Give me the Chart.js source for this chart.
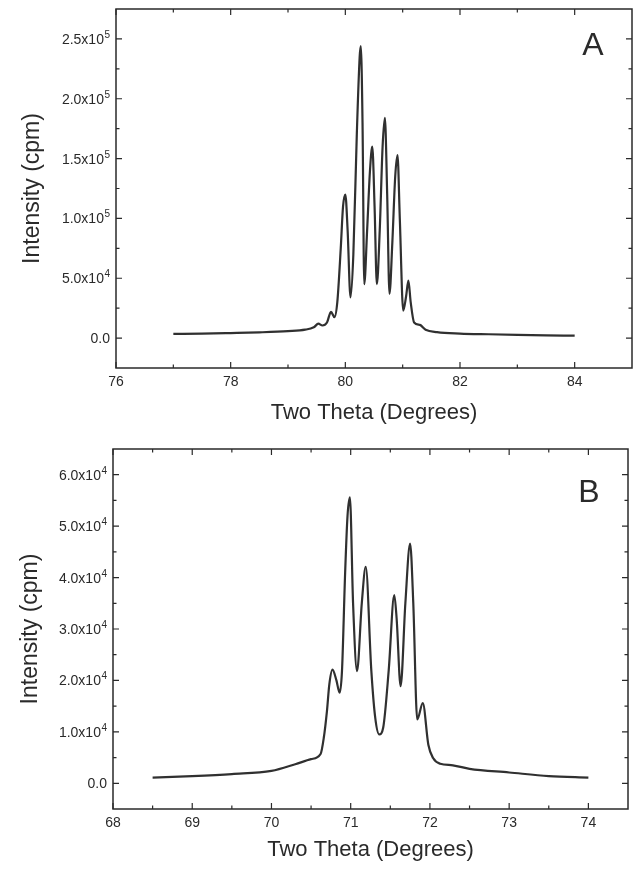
<!DOCTYPE html>
<html lang="en">
<head>
    <meta charset="UTF-8">
    <title>Two Theta scans A and B</title>
    <script src="https://cdn.jsdelivr.net/npm/chart.js@4.4.0/dist/chart.umd.min.js"></script>
    <style>
        body { margin: 0; background: #fff; }
        .panel { position: relative; width: 642px; }
        #panelA { height: 430px; }
        #panelB { height: 440px; }
    </style>
</head>
<body>
    <div class="panel" id="panelA"><canvas id="chartA"></canvas></div>
    <div class="panel" id="panelB"><canvas id="chartB"></canvas></div>

    <script>
        // Panel A data (two theta, intensity in cpm)
        const thetaA = [77.0, 77.5, 78.0, 78.5, 79.0, 79.3, 79.45, 79.53, 79.6, 79.68, 79.75, 79.81, 79.86,
            79.92, 79.96, 80.0, 80.04, 80.09, 80.14, 80.2, 80.25, 80.27, 80.3, 80.33, 80.38, 80.43, 80.47,
            80.51, 80.55, 80.6, 80.65, 80.69, 80.73, 80.77, 80.82, 80.87, 80.91, 80.95, 81.01, 81.06, 81.1,
            81.14, 81.2, 81.3, 81.4, 81.6, 82.0, 82.5, 83.0, 83.5, 84.0];
        const intensityA = [3500, 3700, 4200, 4800, 5800, 7000, 9000, 12000, 10500, 13000, 22000, 17500, 30000,
            75000, 110000, 120000, 90000, 34000, 70000, 170000, 235000, 244000, 180000, 45000, 90000, 140000, 160000,
            110000, 45000, 90000, 160000, 184000, 120000, 37000, 80000, 135000, 153000, 100000, 23000, 35000, 48000,
            30000, 13000, 11000, 7000, 5000, 3800, 3200, 2700, 2300, 2000];

        // Panel B data
        const thetaB = [68.5, 69.0, 69.5, 70.0, 70.3, 70.5, 70.62, 70.66, 70.7, 70.73, 70.77, 70.82, 70.86,
            70.89, 70.93, 70.96, 70.99, 71.03, 71.08, 71.14, 71.19, 71.26, 71.31, 71.36, 71.41, 71.48, 71.55,
            71.58, 71.63, 71.69, 71.75, 71.79, 71.84, 71.91, 71.98, 72.04, 72.13, 72.29, 72.5, 73.0, 73.5, 74.0];
        const intensityB = [1100, 1400, 1800, 2400, 3700, 4700, 5700, 8800, 14000, 19200, 22100, 20000, 17600,
            21800, 41000, 52000, 55600, 35000, 21800, 35000, 42100, 22000, 12700, 9500, 10800, 22000, 36600,
            32000, 18900, 35000, 46600, 35000, 12400, 15600, 7500, 4900, 3800, 3500, 2800, 2100, 1400, 1100];

        // Axis ticks
        const xMajorA = [76, 78, 80, 82, 84];
        const xMinorA = [77, 79, 81, 83];
        const yMajorA = [0, 50000, 100000, 150000, 200000, 250000];
        const yLabelsA = ['0.0', '5.0x10\u2074', '1.0x10\u2075', '1.5x10\u2075', '2.0x10\u2075', '2.5x10\u2075'];
        const yMinorA = [25000, 75000, 125000, 175000, 225000];

        const xMajorB = [68, 69, 70, 71, 72, 73, 74];
        const xMinorB = [68.5, 69.5, 70.5, 71.5, 72.5, 73.5];
        const yMajorB = [0, 10000, 20000, 30000, 40000, 50000, 60000];
        const yLabelsB = ['0.0', '1.0x10\u2074', '2.0x10\u2074', '3.0x10\u2074', '4.0x10\u2074', '5.0x10\u2074', '6.0x10\u2074'];
        const yMinorB = [5000, 15000, 25000, 35000, 45000, 55000];

        const FONT = "'Liberation Sans', Arial, sans-serif";
        const INK = '#2a2a2a';
        const SUP = { '\u2070': '0', '\u00b9': '1', '\u00b2': '2', '\u00b3': '3', '\u2074': '4', '\u2075': '5',
            '\u2076': '6', '\u2077': '7', '\u2078': '8', '\u2079': '9' };

        // frame with inward ticks on all four sides, y labels with raised exponents, panel letter
        const frameTicks = {
            id: 'frameTicks',
            afterDraw(chart, args, opts) {
                const { ctx, chartArea: { left, right, top, bottom }, scales: { x, y } } = chart;
                ctx.save();
                ctx.strokeStyle = INK;
                ctx.lineWidth = 1.5;
                ctx.strokeRect(left, top, right - left, bottom - top);
                ctx.lineWidth = 1.2;
                ctx.beginPath();
                const xTicks = (vals, len) => vals.forEach(v => {
                    const px = x.getPixelForValue(v);
                    ctx.moveTo(px, bottom); ctx.lineTo(px, bottom - len);
                    ctx.moveTo(px, top); ctx.lineTo(px, top + len);
                });
                const yTicks = (vals, len) => vals.forEach(v => {
                    const py = y.getPixelForValue(v);
                    ctx.moveTo(left, py); ctx.lineTo(left + len, py);
                    ctx.moveTo(right, py); ctx.lineTo(right - len, py);
                });
                xTicks(opts.xMajor, 6);
                xTicks(opts.xMinor, 3.5);
                yTicks(opts.yMajor, 6);
                yTicks(opts.yMinor, 3.5);
                ctx.stroke();

                // y tick labels: split trailing superscript digits and draw them raised
                ctx.fillStyle = INK;
                ctx.textAlign = 'right';
                ctx.textBaseline = 'alphabetic';
                opts.yMajor.forEach((v, i) => {
                    const label = opts.yLabels[i];
                    let base = label, exp = '';
                    while (base.length && SUP[base[base.length - 1]]) {
                        exp = SUP[base[base.length - 1]] + exp;
                        base = base.slice(0, -1);
                    }
                    const py = y.getPixelForValue(v) + 5;
                    let px = left - 6;
                    if (exp) {
                        ctx.font = '10px ' + FONT;
                        ctx.fillText(exp, px, py - 6);
                        px -= ctx.measureText(exp).width + 0.5;
                    }
                    ctx.font = '14px ' + FONT;
                    ctx.fillText(base, px, py);
                });

                ctx.font = '32px ' + FONT;
                ctx.textAlign = 'center';
                ctx.textBaseline = 'middle';
                ctx.fillText(opts.letter, right - 39, top + opts.letterDy);
                ctx.restore();
            }
        };

        function makeChart(id, cfg) {
            return new Chart(document.getElementById(id), {
                type: 'line',
                data: {
                    datasets: [{
                        data: cfg.xs.map((v, i) => ({ x: v, y: cfg.ys[i] })),
                        borderColor: '#303030',
                        borderWidth: 2.2,
                        pointRadius: 0,
                        cubicInterpolationMode: 'monotone',
                        fill: false
                    }]
                },
                options: {
                    responsive: true,
                    maintainAspectRatio: false,
                    animation: false,
                    layout: { padding: cfg.padding },
                    plugins: {
                        legend: { display: false },
                        tooltip: { enabled: false },
                        frameTicks: {
                            xMajor: cfg.xMajor, xMinor: cfg.xMinor,
                            yMajor: cfg.yMajor, yMinor: cfg.yMinor, yLabels: cfg.yLabels,
                            letter: cfg.letter, letterDy: cfg.letterDy
                        }
                    },
                    scales: {
                        x: {
                            type: 'linear',
                            min: cfg.xMin,
                            max: cfg.xMax,
                            grid: { display: false, drawTicks: false },
                            border: { display: false },
                            afterBuildTicks: s => { s.ticks = cfg.xMajor.map(v => ({ value: v })); },
                            afterFit: s => { s.height = cfg.xAxisHeight; },
                            ticks: {
                                padding: 6,
                                color: INK,
                                maxRotation: 0,
                                font: { family: FONT, size: 14 },
                                callback: v => String(v)
                            },
                            title: {
                                display: true,
                                text: 'Two Theta (Degrees)',
                                color: INK,
                                font: { family: FONT, size: 22 },
                                padding: { top: 0, bottom: cfg.xTitlePad }
                            }
                        },
                        y: {
                            min: cfg.yMin,
                            max: cfg.yMax,
                            grid: { display: false, drawTicks: false },
                            border: { display: false },
                            afterBuildTicks: s => { s.ticks = cfg.yMajor.map(v => ({ value: v })); },
                            afterFit: s => { s.width = cfg.yAxisWidth; },
                            ticks: { display: false },
                            title: {
                                display: true,
                                text: 'Intensity (cpm)',
                                color: INK,
                                font: { family: FONT, size: 23 },
                                padding: { top: cfg.yTitlePad, bottom: 0 }
                            }
                        }
                    }
                },
                plugins: [frameTicks]
            });
        }

        makeChart('chartA', {
            xs: thetaA, ys: intensityA,
            xMin: 76, xMax: 85, yMin: -25000, yMax: 275000,
            xMajor: xMajorA, xMinor: xMinorA, yMajor: yMajorA, yMinor: yMinorA, yLabels: yLabelsA,
            letter: 'A', letterDy: 37,
            padding: { left: 0, top: 9, right: 10, bottom: 0 },
            yAxisWidth: 116, xAxisHeight: 62, xTitlePad: 4, yTitlePad: 19
        });

        makeChart('chartB', {
            xs: thetaB, ys: intensityB,
            xMin: 68, xMax: 74.5, yMin: -5000, yMax: 65000,
            xMajor: xMajorB, xMinor: xMinorB, yMajor: yMajorB, yMinor: yMinorB, yLabels: yLabelsB,
            letter: 'B', letterDy: 44,
            padding: { left: 0, top: 19, right: 14, bottom: 0 },
            yAxisWidth: 113, xAxisHeight: 61, xTitlePad: 7, yTitlePad: 17
        });
    </script>
</body>
</html>
